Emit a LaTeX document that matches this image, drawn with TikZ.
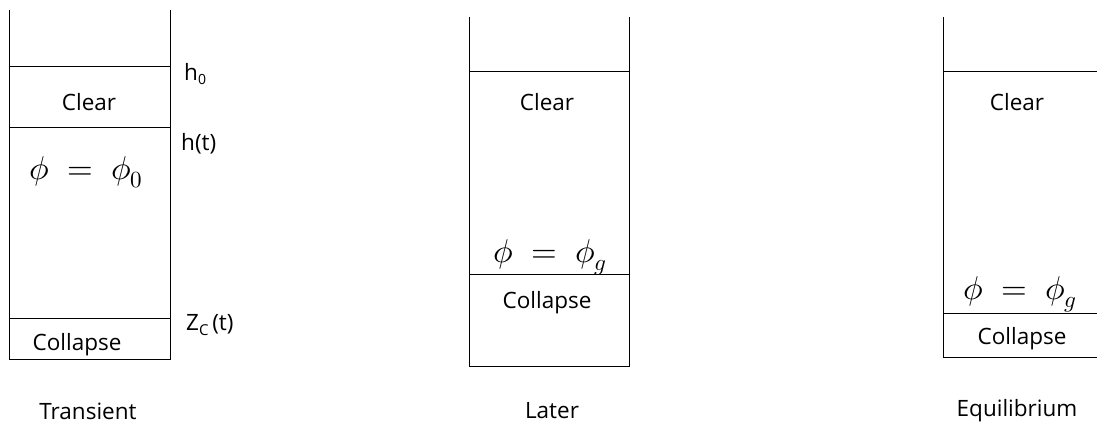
\documentclass[tikz,border=0pt]{standalone}
\usepackage{fontspec}
\setmainfont{Open Sans}
\usepackage{unicode-math}
\setmathfont{Latin Modern Math}
\begin{document}
\begin{tikzpicture}[x=1pt,y=-1pt,
  wall/.style={line width=1pt, black},
  lbl/.style={font=\fontsize{22.5}{26}\selectfont, inner sep=0pt},
  mth/.style={font=\fontsize{33}{36}\selectfont, inner sep=0pt}]
\useasboundingbox (0,0) rectangle (1097,427);
% Column 1: Transient
\draw[wall] (9.5,10) -- (9.5,359) -- (170,359) -- (170,10);
\draw[wall] (9.5,66.5) -- (170,66.5);
\draw[wall] (9.5,127.5) -- (170,127.5);
\draw[wall] (9.5,319) -- (170,319);
\node[lbl] (c1clear) at (89,102) {Clear};
\node[mth] (c1phi) at (86,172) {$\phi\;=\;\phi_0$};
\node[lbl] (c1coll) at (77,345) {Collapse};
\node[lbl, anchor=west] (h0) at (184,74) {h\raisebox{-0.35ex}{\fontsize{14}{14}\selectfont 0}};
\node[lbl, anchor=west] (ht) at (181,144) {h(t)};
\node[lbl, anchor=west] (zc) at (186,325) {Z\raisebox{-0.35ex}{\fontsize{15}{15}\selectfont C}\,(t)};
\node[lbl] (t1) at (88,411) {Transient};
% Column 2: Later
\draw[wall] (469,17) -- (469,366) -- (629,366) -- (629,17);
\draw[wall] (469,72) -- (629,72);
\draw[wall] (469,275) -- (629,275);
\node[lbl] (c2clear) at (547,102) {Clear};
\node[mth] (c2phi) at (550,257) {$\phi\;=\;\phi_g$};
\node[lbl] (c2coll) at (547,303) {Collapse};
\node[lbl] (t2) at (552,411) {Later};
% Column 3: Equilibrium
\draw[wall] (1097,357) -- (943,357) -- (943,17);
\draw[wall] (943,72) -- (1097,72);
\draw[wall] (943,314) -- (1097,314);
\node[lbl] (c3clear) at (1017,102) {Clear};
\node[mth] (c3phi) at (1020,294) {$\phi\;=\;\phi_g$};
\node[lbl] (c3coll) at (1022,339) {Collapse};
\node[lbl] (t3) at (1017,411) {Equilibrium};
\end{tikzpicture}
\end{document}
